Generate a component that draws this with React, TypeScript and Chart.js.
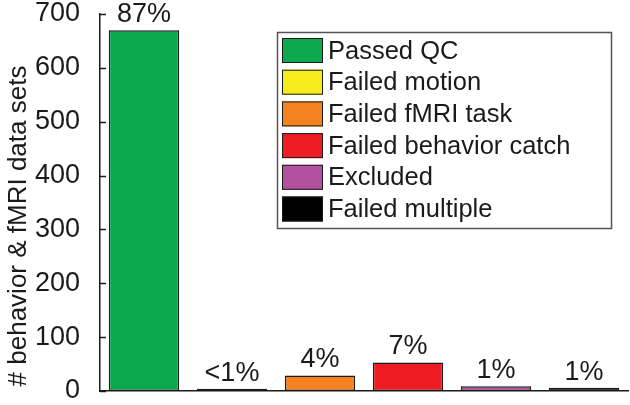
import React, { useEffect, useRef } from "react";
import { Chart, registerables } from "chart.js";

Chart.register(...registerables);

const categories = [
  "Passed QC",
  "Failed motion",
  "Failed fMRI task",
  "Failed behavior catch",
  "Excluded",
  "Failed multiple",
];
const counts = [670, 4, 29, 53, 9, 6];
const percentLabels = ["87%", "<1%", "4%", "7%", "1%", "1%"];
const barColors = ["#0aaa4c", "#f7ec1b", "#f58220", "#ee1d23", "#b4519e", "#000000"];
const yTicks = [0, 100, 200, 300, 400, 500, 600, 700];
const yTitle = "# behavior & fMRI data sets";

const FONT = 'Arial, "Liberation Sans", Helvetica, sans-serif';
const AXIS_COLOR = "#1a1a1a";

const overlayPlugin = {
  id: "overlay",
  afterDraw(chart: any) {
    const ctx = chart.ctx;
    const area = chart.chartArea;
    const yScale = chart.scales.y;
    ctx.save();

    // inward y ticks
    ctx.strokeStyle = AXIS_COLOR;
    ctx.lineWidth = 1.5;
    yTicks.forEach((v) => {
      const py = Math.round(yScale.getPixelForValue(v)) + 0.5;
      ctx.beginPath();
      ctx.moveTo(area.left, py);
      ctx.lineTo(area.left + 6, py);
      ctx.stroke();
    });

    // percent labels
    const meta = chart.getDatasetMeta(0);
    ctx.fillStyle = "#1a1a1a";
    ctx.font = `27px ${FONT}`;
    ctx.textAlign = "center";
    ctx.textBaseline = "alphabetic";
    meta.data.forEach((bar: any, i: number) => {
      ctx.fillText(percentLabels[i], bar.x, bar.y - 8);
    });

    // y title
    ctx.save();
    ctx.translate(26, 226);
    ctx.rotate(-Math.PI / 2);
    ctx.font = `26px ${FONT}`;
    ctx.textAlign = "center";
    ctx.textBaseline = "alphabetic";
    ctx.fillText(yTitle, 0, 0);
    ctx.restore();

    // legend
    const lx = 277, ly = 32, lw = 334, lh = 196;
    ctx.fillStyle = "#ffffff";
    ctx.fillRect(lx, ly, lw, lh);
    ctx.strokeStyle = "#555555";
    ctx.lineWidth = 1.5;
    ctx.strokeRect(lx + 0.5, ly + 0.5, lw, lh);
    ctx.font = `25.5px ${FONT}`;
    ctx.textAlign = "left";
    ctx.textBaseline = "middle";
    categories.forEach((c, i) => {
      const sy = 38 + i * 31.7;
      ctx.fillStyle = barColors[i];
      ctx.fillRect(282, sy, 41, 25);
      ctx.strokeStyle = "#1a1a1a";
      ctx.lineWidth = 1;
      ctx.strokeRect(282.5, sy + 0.5, 40, 24);
      ctx.fillStyle = "#1a1a1a";
      ctx.fillText(c, 328, sy + 13.5);
    });

    ctx.restore();
  },
};

export default function App() {
  const canvasRef = useRef<HTMLCanvasElement | null>(null);

  useEffect(() => {
    if (!canvasRef.current) return;
    const chart = new Chart(canvasRef.current, {
      type: "bar",
      data: {
        labels: categories,
        datasets: [
          {
            data: counts,
            backgroundColor: barColors,
            borderColor: "#1a1a1a",
            borderWidth: 1.5,
            borderSkipped: false,
            categoryPercentage: 1,
            barPercentage: 0.8,
          },
        ],
      },
      options: {
        responsive: false,
        animation: false,
        layout: { padding: { top: 14, right: 2, left: 0, bottom: 0 } },
        plugins: {
          legend: { display: false },
          tooltip: { enabled: false },
        },
        scales: {
          x: {
            grid: { display: false, drawTicks: false },
            ticks: { display: false },
            border: { display: true, color: AXIS_COLOR, width: 1.5 },
            afterFit: (s: any) => {
              s.height = 14;
            },
          },
          y: {
            min: 0,
            max: 700,
            afterBuildTicks: (s: any) => {
              s.ticks = yTicks.map((v) => ({ value: v }));
            },
            grid: { display: false, drawTicks: false },
            border: { display: true, color: AXIS_COLOR, width: 1.5 },
            ticks: {
              color: "#1a1a1a",
              padding: 20,
              font: { family: FONT, size: 27, lineHeight: 1 },
            },
            afterFit: (s: any) => {
              s.width = 100;
              s.paddingTop = 0;
              s.paddingBottom = 0;
            },
          },
        },
      },
      plugins: [overlayPlugin],
    });
    return () => chart.destroy();
  }, []);

  return (
    <div style={{ position: "absolute", left: 0, top: 0, width: 630, height: 405, background: "#fff" }}>
      <canvas ref={canvasRef} width={630} height={405} />
    </div>
  );
}
